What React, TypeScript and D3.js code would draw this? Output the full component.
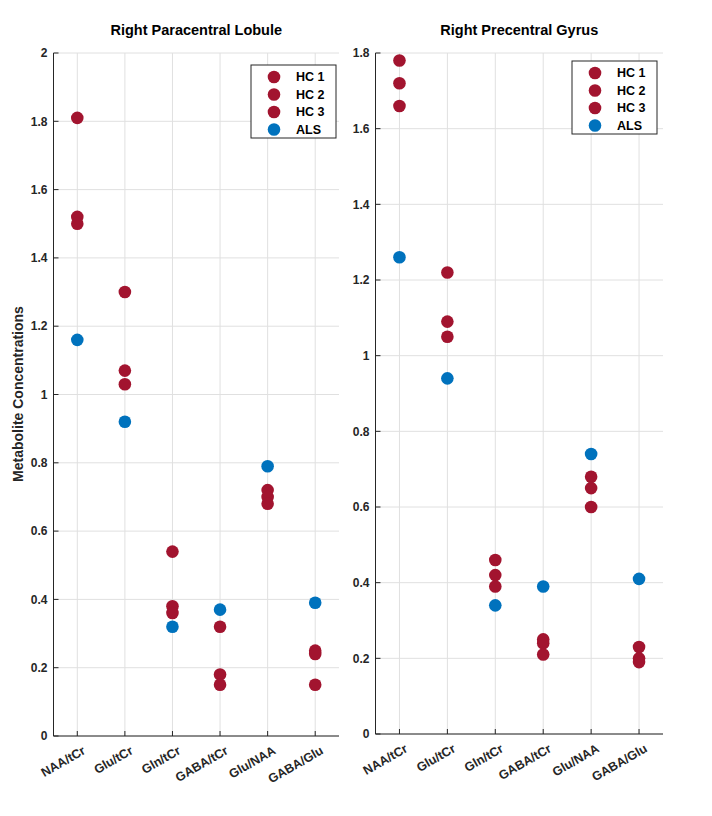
import * as d3 from 'd3';

const categories = ['NAA/tCr', 'Glu/tCr', 'Gln/tCr', 'GABA/tCr', 'Glu/NAA', 'GABA/Glu'];
const groups = ['HC 1', 'HC 2', 'HC 3', 'ALS'];

// Right Paracentral Lobule
const lobuleHC1 = [1.81, 1.3, 0.54, 0.32, 0.72, 0.25];
const lobuleHC2 = [1.52, 1.07, 0.38, 0.18, 0.7, 0.24];
const lobuleHC3 = [1.5, 1.03, 0.36, 0.15, 0.68, 0.15];
const lobuleALS = [1.16, 0.92, 0.32, 0.37, 0.79, 0.39];

// Right Precentral Gyrus
const gyrusHC1 = [1.78, 1.22, 0.46, 0.25, 0.68, 0.23];
const gyrusHC2 = [1.72, 1.09, 0.42, 0.24, 0.65, 0.2];
const gyrusHC3 = [1.66, 1.05, 0.39, 0.21, 0.6, 0.19];
const gyrusALS = [1.26, 0.94, 0.34, 0.39, 0.74, 0.41];

const RED = '#A2142F';
const BLUE = '#0072BD';
const groupColors = [RED, RED, RED, BLUE];
const FONT = '"Liberation Sans", Arial, Helvetica, sans-serif';

type PanelProps = {
  title: string;
  series: number[][];
  yMax: number;
  left: number;
  right: number;
  top: number;
  bottom: number;
  legend: { x: number; y: number };
};

function Panel({ title, series, yMax, left, right, top, bottom, legend }: PanelProps) {
  const x = d3.scaleLinear().domain([0.5, categories.length + 0.5]).range([left, right]);
  const y = d3.scaleLinear().domain([0, yMax]).range([bottom, top]);
  const yTicks = y.ticks(10);
  const fmt = (d: number) => String(+d.toFixed(1));

  return (
    <g>
      <text
        x={(left + right) / 2}
        y={35}
        textAnchor="middle"
        fontSize={14.5}
        fontWeight="bold"
        fill="#000"
      >
        {title}
      </text>
      {/* grid */}
      {yTicks.map((t) => (
        <line key={'gy' + t} x1={left} x2={right} y1={y(t)} y2={y(t)} stroke="#e0e0e0" strokeWidth={1} />
      ))}
      {categories.map((c, i) => (
        <line key={'gx' + c} x1={x(i + 1)} x2={x(i + 1)} y1={top} y2={bottom} stroke="#e0e0e0" strokeWidth={1} />
      ))}
      {/* axes */}
      <line x1={left} x2={left} y1={top} y2={bottom} stroke="#262626" strokeWidth={1} />
      <line x1={left} x2={right} y1={bottom} y2={bottom} stroke="#262626" strokeWidth={1} />
      {yTicks.map((t) => (
        <g key={'ty' + t}>
          <line x1={left} x2={left + 5} y1={y(t)} y2={y(t)} stroke="#262626" />
          <text x={left - 6} y={y(t)} dy="0.35em" textAnchor="end" fontSize={12} fontWeight="bold" fill="#262626">
            {fmt(t)}
          </text>
        </g>
      ))}
      {categories.map((c, i) => (
        <g key={'tx' + c}>
          <line x1={x(i + 1)} x2={x(i + 1)} y1={bottom} y2={bottom - 5} stroke="#262626" />
          <text
            transform={`translate(${x(i + 1) + 9},${bottom + 17}) rotate(-30)`}
            textAnchor="end"
            fontSize={12.5}
            fontWeight="bold"
            fill="#262626"
          >
            {c}
          </text>
        </g>
      ))}
      {/* points */}
      {series.map((vals, gi) =>
        vals.map((v, i) => (
          <circle key={gi + '-' + i} cx={x(i + 1)} cy={y(v)} r={6.3} fill={groupColors[gi]} />
        ))
      )}
      {/* legend */}
      <g transform={`translate(${legend.x},${legend.y})`}>
        <rect x={0} y={0} width={85} height={73} fill="#fff" stroke="#262626" strokeWidth={1} />
        {groups.map((g, gi) => (
          <g key={g} transform={`translate(0,${12 + gi * 17.5})`}>
            <circle cx={23} cy={0} r={6.3} fill={groupColors[gi]} />
            <text x={45} y={0} dy="0.35em" fontSize={12.5} fontWeight="bold" fill="#000">
              {g}
            </text>
          </g>
        ))}
      </g>
    </g>
  );
}

export default function App() {
  return (
    <svg
      width={712}
      height={816}
      style={{ position: 'absolute', left: 0, top: 0, background: '#fff', fontFamily: FONT }}
    >
      <rect width={712} height={816} fill="#fff" />
      <Panel
        title="Right Paracentral Lobule"
        series={[lobuleHC1, lobuleHC2, lobuleHC3, lobuleALS]}
        yMax={2}
        left={53.5}
        right={339}
        top={53}
        bottom={736}
        legend={{ x: 251, y: 65 }}
      />
      <Panel
        title="Right Precentral Gyrus"
        series={[gyrusHC1, gyrusHC2, gyrusHC3, gyrusALS]}
        yMax={1.8}
        left={375.5}
        right={663}
        top={53}
        bottom={734}
        legend={{ x: 572, y: 61 }}
      />
      <text
        transform="translate(23,394) rotate(-90)"
        textAnchor="middle"
        fontSize={14}
        fontWeight="bold"
        fill="#262626"
      >
        Metabolite Concentrations
      </text>
    </svg>
  );
}
